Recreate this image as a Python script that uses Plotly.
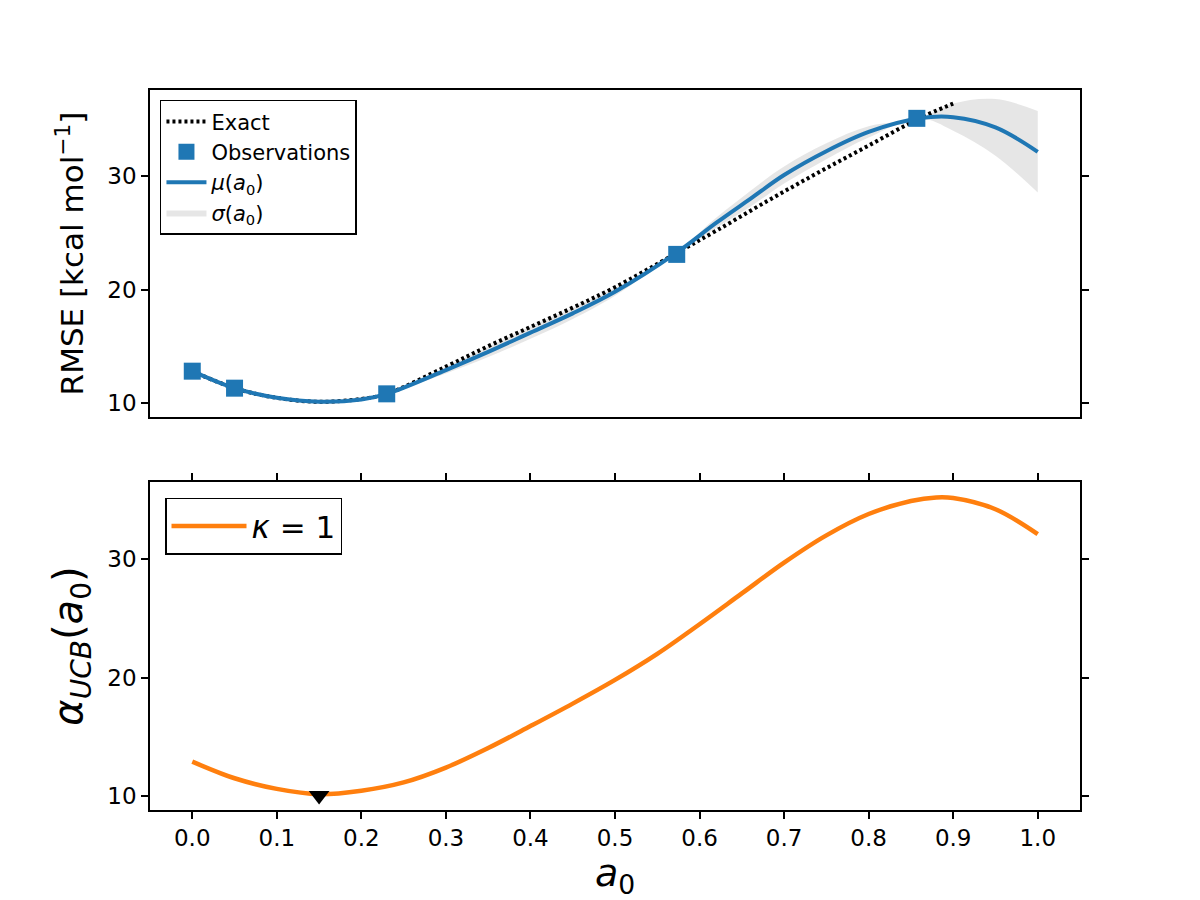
import plotly.graph_objects as go

# ---------------- data ----------------
a_grid = [0.00, 0.05, 0.10, 0.15, 0.20, 0.23, 0.30, 0.35, 0.40, 0.45, 0.50,
          0.57, 0.62, 0.66, 0.70, 0.75, 0.80, 0.86, 0.90, 0.95, 1.00]
mu_vals = [12.8, 11.3, 10.45, 10.1, 10.3, 10.8, 12.9, 14.5, 16.2, 17.9, 19.8,
           23.1, 25.9, 28.0, 30.1, 32.2, 33.9, 35.1, 35.2, 34.3, 32.15]
sigma_vals = [0.0, 0.0, 0.1, 0.15, 0.1, 0.0, 0.3, 0.45, 0.55, 0.5, 0.35,
              0.0, 0.45, 0.7, 0.75, 0.7, 0.5, 0.0, 1.2, 2.5, 3.6]

exact_a = [0.00, 0.05, 0.10, 0.15, 0.20, 0.23, 0.30, 0.35, 0.40, 0.45, 0.50,
           0.57, 0.62, 0.68, 0.74, 0.80, 0.86, 0.90]
exact_vals = [12.8, 11.3, 10.45, 10.1, 10.35, 10.8, 13.2, 15.0, 16.7, 18.4, 20.2,
              23.1, 25.2, 27.8, 30.3, 32.7, 35.1, 36.4]

obs_a = [0.0, 0.05, 0.23, 0.573, 0.857]
obs_vals = [12.8, 11.3, 10.8, 23.1, 35.1]

ucb_a = [0.00, 0.05, 0.10, 0.15, 0.20, 0.25, 0.30, 0.35, 0.40, 0.45, 0.50,
         0.55, 0.60, 0.65, 0.70, 0.75, 0.80, 0.85, 0.88, 0.90, 0.95, 1.00]
ucb_vals = [12.9, 11.5, 10.6, 10.15, 10.45, 11.15, 12.4, 14.05, 15.9, 17.8, 19.8,
            22.0, 24.5, 27.1, 29.7, 32.0, 33.8, 34.9, 35.2, 35.15, 34.2, 32.1]

min_a = [0.15]
min_val = [10.05]

xticks = [0.0, 0.1, 0.2, 0.3, 0.4, 0.5, 0.6, 0.7, 0.8, 0.9, 1.0]
yticks = [10, 20, 30]

# ---------------- figure ----------------
BLUE = "#1f77b4"
ORANGE = "#ff7f0e"
FONT = "DejaVu Sans"

upper = [m + s for m, s in zip(mu_vals, sigma_vals)]
lower = [m - s for m, s in zip(mu_vals, sigma_vals)]

fig = go.Figure()

fig.add_trace(go.Scatter(
    x=a_grid, y=lower, mode="lines",
    line=dict(width=0, shape="spline", color="rgba(0,0,0,0)"),
    showlegend=False, xaxis="x", yaxis="y", hoverinfo="skip"))

fig.add_trace(go.Scatter(
    x=a_grid, y=upper, mode="lines",
    fill="tonexty", fillcolor="rgba(128,128,128,0.2)",
    line=dict(width=0, shape="spline", color="rgba(0,0,0,0)"),
    name="<i>σ</i>(<i>a</i><sub>0</sub>)", legendrank=4,
    xaxis="x", yaxis="y", legend="legend", hoverinfo="skip"))

fig.add_trace(go.Scatter(
    x=exact_a, y=exact_vals, mode="lines",
    line=dict(color="black", width=4, dash="3px,3px", shape="spline"),
    name="Exact", legendrank=1, xaxis="x", yaxis="y", legend="legend"))

fig.add_trace(go.Scatter(
    x=a_grid, y=mu_vals, mode="lines",
    line=dict(color=BLUE, width=4, shape="spline"),
    name="<i>μ</i>(<i>a</i><sub>0</sub>)", legendrank=3,
    xaxis="x", yaxis="y", legend="legend"))

fig.add_trace(go.Scatter(
    x=obs_a, y=obs_vals, mode="markers",
    marker=dict(symbol="square", size=17, color=BLUE),
    name="Observations", legendrank=2,
    xaxis="x", yaxis="y", legend="legend"))

fig.add_trace(go.Scatter(
    x=ucb_a, y=ucb_vals, mode="lines",
    line=dict(color=ORANGE, width=4.5, shape="spline"),
    name="<i>κ</i> = 1", xaxis="x2", yaxis="y2", legend="legend2"))

fig.add_trace(go.Scatter(
    x=min_a, y=min_val, mode="markers",
    marker=dict(symbol="triangle-down", size=18, color="black"),
    showlegend=False, xaxis="x2", yaxis="y2"))

axis_common = dict(showline=True, linecolor="black", linewidth=1.6,
                   showgrid=False, zeroline=False,
                   tickcolor="black", tickwidth=1.6, ticklen=7,
                   tickfont=dict(family=FONT, size=23, color="black"))

xr = [-0.05, 1.05]

fig.update_layout(
    width=1200, height=900,
    margin=dict(l=0, r=0, t=0, b=0),
    paper_bgcolor="white", plot_bgcolor="white",
    font=dict(family=FONT, color="black"),
    xaxis=dict(domain=[0.125, 0.9], anchor="y", range=xr, matches="x2",
               showticklabels=False, ticks="", mirror=True, **axis_common),
    yaxis=dict(domain=[0.5367, 0.9], anchor="x", range=[8.76, 37.6],
               tickvals=yticks, ticks="outside", mirror="ticks",
               title=dict(text="RMSE [kcal mol<sup>−1</sup>]",
                          font=dict(family=FONT, size=31), standoff=14),
               **axis_common),
    xaxis2=dict(domain=[0.125, 0.9], anchor="y2", range=xr,
                tickvals=xticks, ticktext=[f"{t:.1f}" for t in xticks],
                ticks="outside", mirror="ticks",
                title=dict(text="<i>a</i><sub>0</sub>",
                           font=dict(family=FONT, size=38), standoff=8),
                **axis_common),
    yaxis2=dict(domain=[0.1, 0.4644], anchor="x2", range=[8.82, 36.5],
                tickvals=yticks, ticks="outside", mirror="ticks",
                title=dict(text="<i>α</i><sub><i>UCB</i></sub>(<i>a</i><sub>0</sub>)",
                           font=dict(family=FONT, size=40), standoff=12),
                **axis_common),
    legend=dict(x=0.1333, y=0.889, xanchor="left", yanchor="top",
                bgcolor="white", bordercolor="black", borderwidth=1.5,
                font=dict(family=FONT, size=21, color="black"),
                itemwidth=40, traceorder="normal"),
    legend2=dict(x=0.1375, y=0.4467, xanchor="left", yanchor="top",
                 bgcolor="white", bordercolor="black", borderwidth=1.5,
                 font=dict(family=FONT, size=31, color="black"),
                 itemwidth=75),
)

fig.write_html("out.html")
